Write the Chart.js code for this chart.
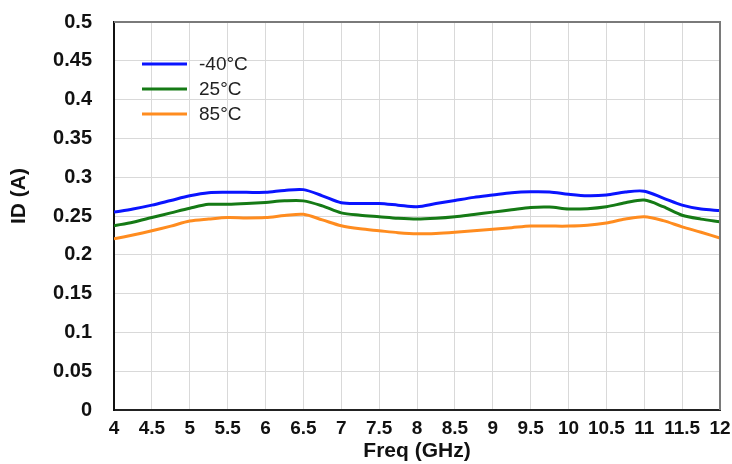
<!DOCTYPE html>
<html>
<head>
<meta charset="utf-8">
<script src="https://cdn.jsdelivr.net/npm/chart.js@4/dist/chart.umd.min.js"></script>
<style>
  html, body { margin: 0; padding: 0; background: #ffffff; }
  #wrap { width: 732px; height: 464px; }
</style>
</head>
<body>
<div id="wrap"><canvas id="c" width="732" height="464"></canvas></div>
<script>
// Drain current versus frequency at three temperatures
const freqGHz = [4, 4.25, 4.5, 4.75, 5, 5.25, 5.5, 5.75, 6, 6.25, 6.5, 6.75, 7, 7.25, 7.5, 7.75,
  8, 8.25, 8.5, 8.75, 9, 9.25, 9.5, 9.75, 10, 10.25, 10.5, 10.75, 11, 11.25, 11.5, 11.75, 12];

const idMinus40 = [0.255, 0.259, 0.264, 0.270, 0.276, 0.280, 0.2805, 0.2805, 0.2805, 0.283, 0.284, 0.276,
  0.267, 0.266, 0.266, 0.264, 0.262, 0.266, 0.270, 0.274, 0.277, 0.280, 0.2813, 0.281, 0.278, 0.276,
  0.277, 0.281, 0.282, 0.273, 0.264, 0.259, 0.257];

const id25 = [0.2375, 0.242, 0.248, 0.254, 0.260, 0.265, 0.265, 0.266, 0.2675, 0.2695, 0.2695, 0.263,
  0.254, 0.251, 0.249, 0.247, 0.246, 0.247, 0.249, 0.252, 0.255, 0.258, 0.261, 0.2615, 0.259, 0.2595,
  0.262, 0.267, 0.2705, 0.262, 0.251, 0.246, 0.2425];

const id85 = [0.2205, 0.2255, 0.231, 0.237, 0.2435, 0.246, 0.248, 0.2475, 0.248, 0.2505, 0.2522, 0.245,
  0.2375, 0.2335, 0.231, 0.2285, 0.227, 0.2275, 0.229, 0.231, 0.233, 0.235, 0.237, 0.237, 0.237, 0.238,
  0.241, 0.246, 0.249, 0.244, 0.236, 0.229, 0.2215];

const seriesLabels = ['-40°C', '25°C', '85°C'];
const seriesColors = ['#0a14ff', '#157a15', '#ff8c1f'];
const seriesValues = [idMinus40, id25, id85];

const yTitle = 'ID (A)';
const xTitle = 'Freq (GHz)';

const FONT = '"Liberation Sans", Arial, sans-serif';
const toPoints = vals => vals.map((v, i) => ({ x: freqGHz[i], y: v }));
const fmt = v => String(Math.round(v * 100) / 100);

// Plot frame, y-axis title and the legend drawn inside the plot
const decorations = {
  id: 'decorations',
  afterDatasetsDraw(chart) {
    const ctx = chart.ctx;
    const a = chart.chartArea;
    ctx.save();
    // top and right edges of the frame
    ctx.strokeStyle = '#7a7a7a';
    ctx.lineWidth = 2;
    ctx.beginPath();
    ctx.moveTo(a.left, a.top);
    ctx.lineTo(a.right, a.top);
    ctx.lineTo(a.right, a.bottom);
    ctx.stroke();

    // y-axis title
    ctx.fillStyle = '#111111';
    ctx.font = 'bold 21px ' + FONT;
    ctx.textAlign = 'center';
    ctx.textBaseline = 'middle';
    ctx.translate(19, 196);
    ctx.rotate(-Math.PI / 2);
    ctx.fillText(yTitle, 0, 0);
    ctx.setTransform(1, 0, 0, 1, 0, 0);

    // legend entries
    ctx.font = '19px ' + FONT;
    ctx.textAlign = 'left';
    chart.data.datasets.forEach((ds, i) => {
      const y = 64 + i * 25;
      ctx.strokeStyle = ds.borderColor;
      ctx.lineWidth = 3;
      ctx.beginPath();
      ctx.moveTo(142, y);
      ctx.lineTo(187, y);
      ctx.stroke();
      ctx.fillStyle = '#222222';
      ctx.fillText(ds.label, 199, y + 1);
    });
    ctx.restore();
  }
};

new Chart(document.getElementById('c'), {
  type: 'line',
  data: {
    datasets: seriesValues.map((vals, i) => ({
      label: seriesLabels[i],
      data: toPoints(vals),
      borderColor: seriesColors[i],
      backgroundColor: seriesColors[i],
      borderWidth: 3,
      pointRadius: 0,
      tension: 0.3,
      fill: false
    }))
  },
  options: {
    responsive: false,
    animation: false,
    layout: { padding: { left: 0, top: 22, right: 12, bottom: 0 } },
    plugins: { legend: { display: false }, tooltip: { enabled: false } },
    scales: {
      x: {
        type: 'linear',
        min: 4, max: 12,
        afterFit(scale) {
          scale.height = 54;
          scale.paddingLeft = 0;
          scale.paddingRight = 0;
        },
        ticks: {
          stepSize: 0.5,
          padding: 7,
          color: '#111111',
          font: { family: FONT, size: 19, weight: 'bold' },
          maxRotation: 0,
          autoSkip: false,
          callback: fmt
        },
        grid: { color: '#d9d9d9', lineWidth: 1, drawTicks: false },
        border: { color: '#222222', width: 2 },
        title: {
          display: true,
          text: xTitle,
          color: '#111111',
          padding: { top: 0, bottom: 0 },
          font: { family: FONT, size: 21, weight: 'bold' }
        }
      },
      y: {
        type: 'linear',
        min: 0, max: 0.5,
        afterFit(scale) {
          scale.width = 114;
          scale.paddingTop = 0;
          scale.paddingBottom = 0;
        },
        ticks: {
          stepSize: 0.05,
          padding: 22,
          color: '#111111',
          font: { family: FONT, size: 20, weight: 'bold' },
          callback: fmt
        },
        grid: { color: '#d9d9d9', lineWidth: 1, drawTicks: false },
        border: { color: '#111111', width: 2 }
      }
    }
  },
  plugins: [decorations]
});
</script>
</body>
</html>
